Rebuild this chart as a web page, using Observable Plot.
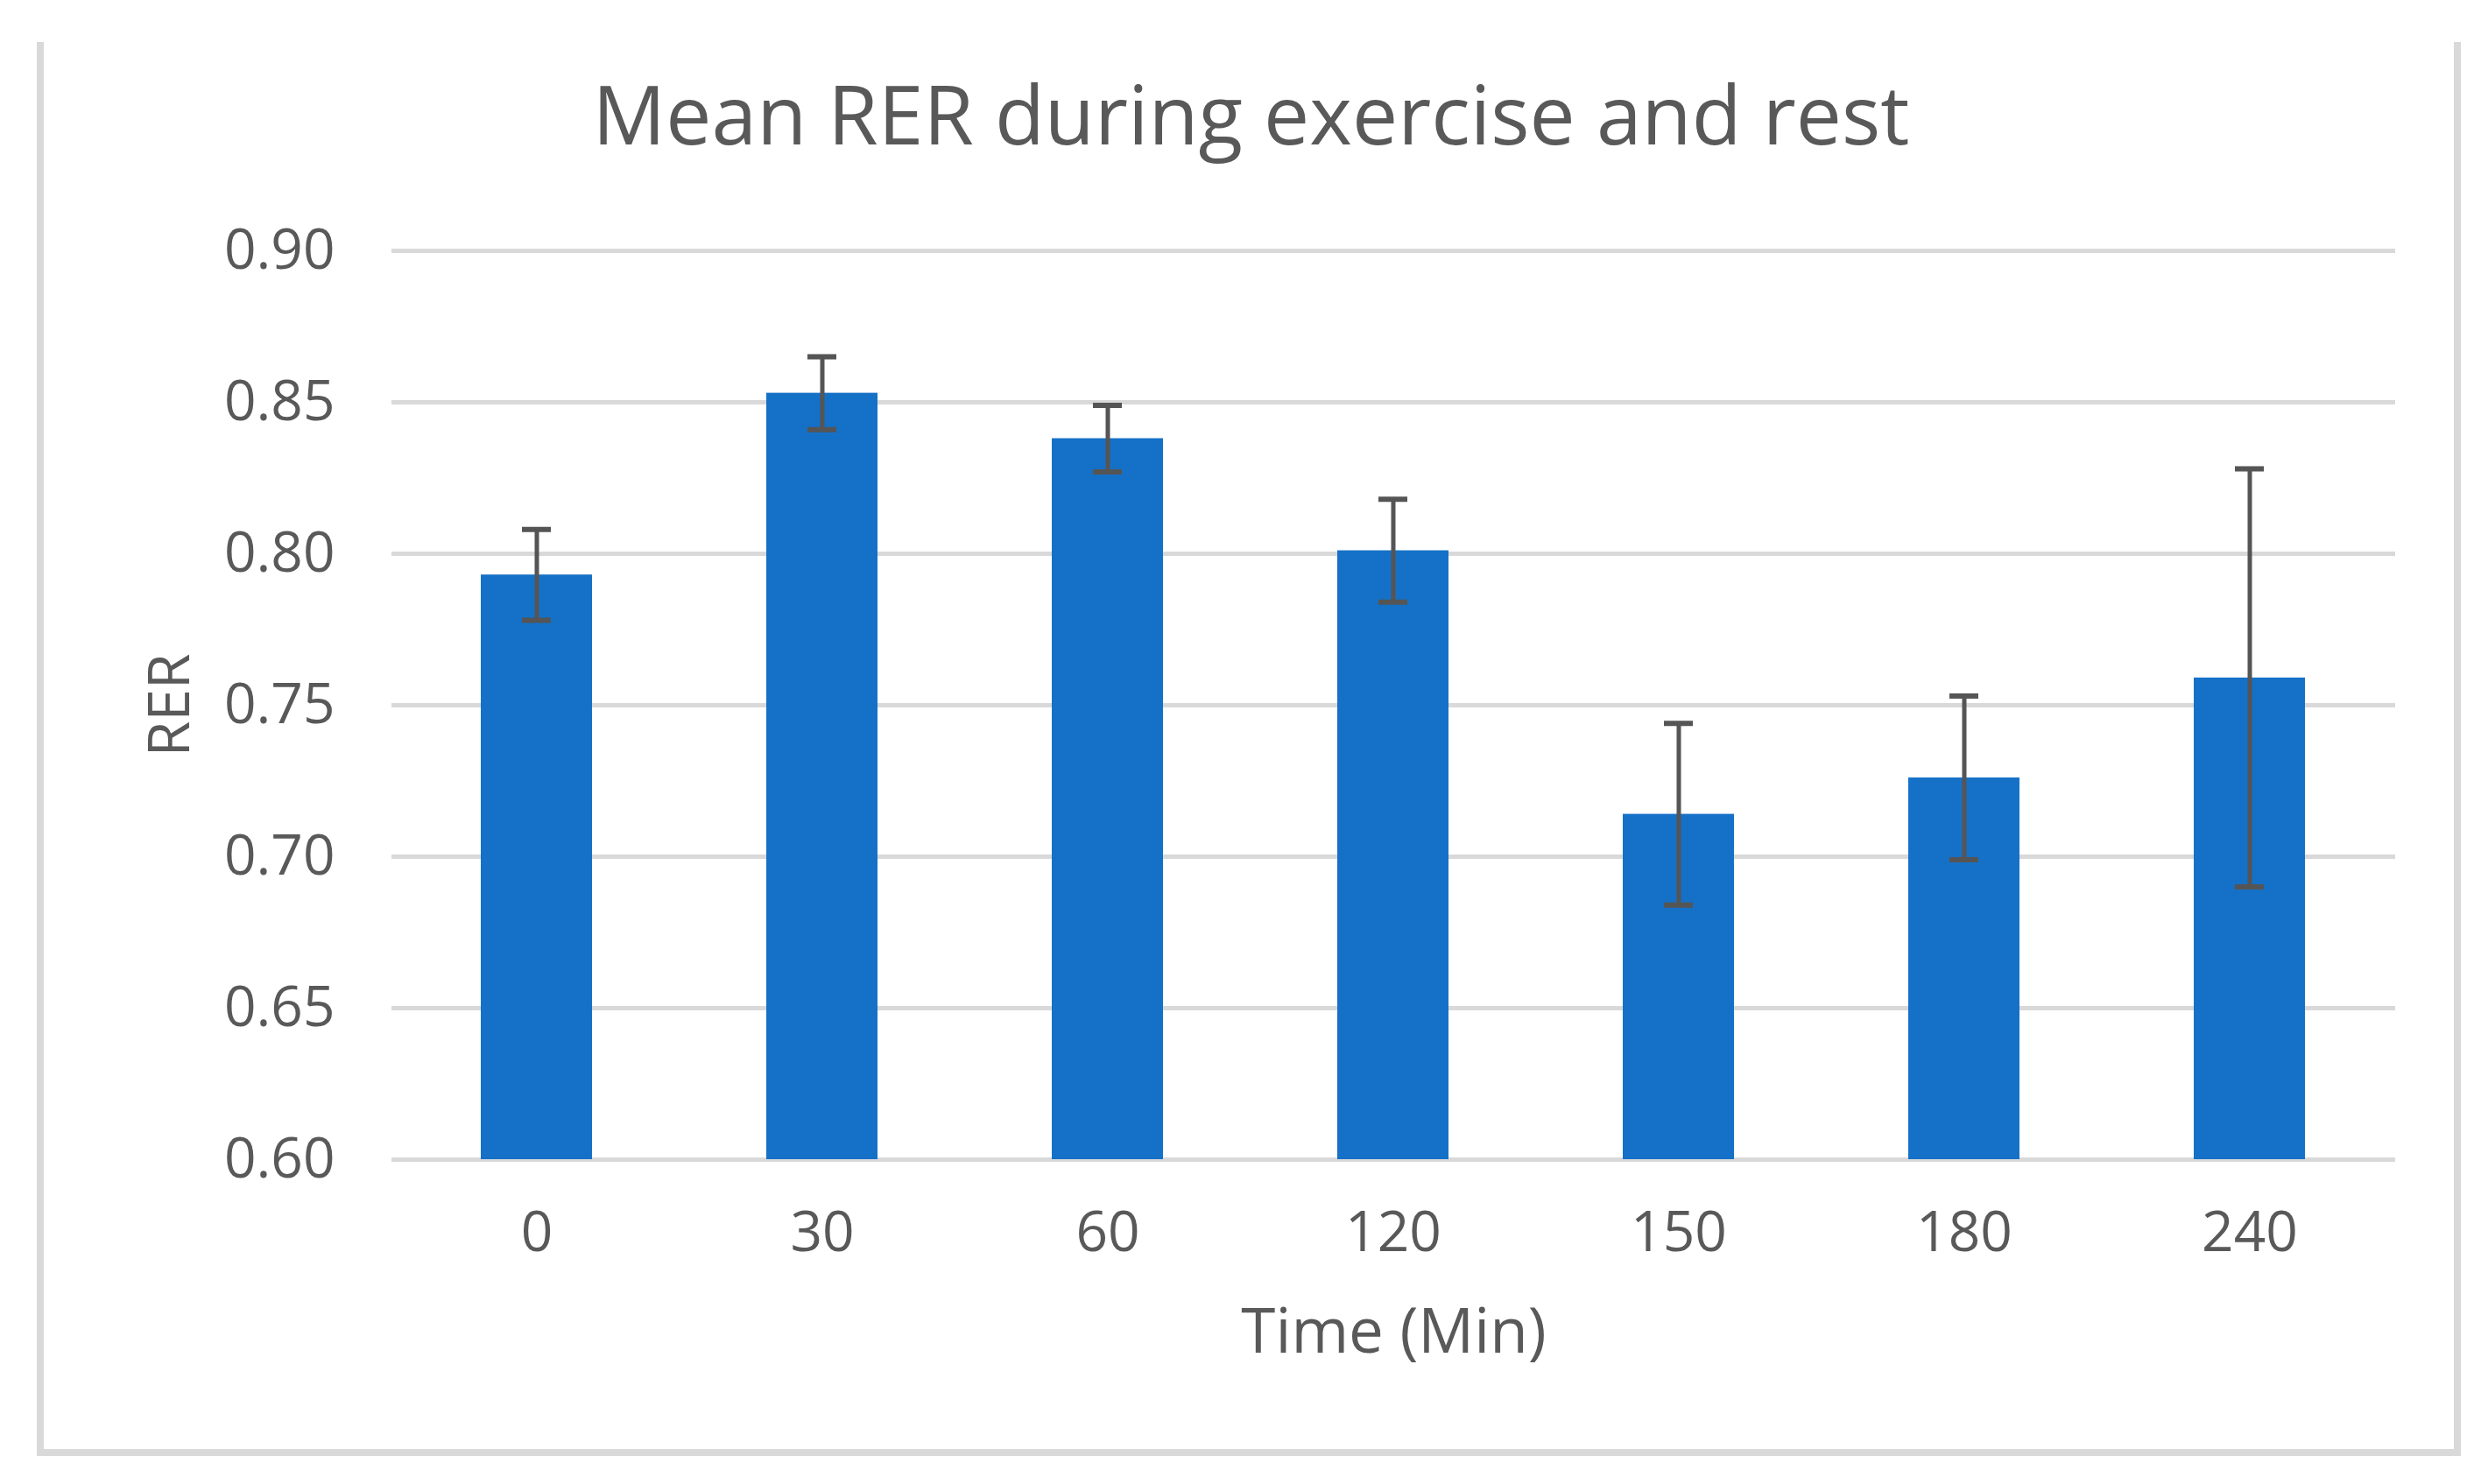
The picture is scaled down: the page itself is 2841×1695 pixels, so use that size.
<!DOCTYPE html>
<html>
<head>
<meta charset="utf-8">
<script src="https://cdn.jsdelivr.net/npm/d3@7"></script>
<script src="https://cdn.jsdelivr.net/npm/@observablehq/plot@0.6"></script>
<style>
  html, body { margin: 0; padding: 0; background: #fff; }
  #page { position: relative; width: 2841px; height: 1695px; background: #fff; overflow: hidden; }
  #frame { position: absolute; left: 42px; top: 48px; width: 2752px; height: 1607px;
           border-left: 8px solid #d9d9d9; border-right: 8px solid #d9d9d9; border-bottom: 8px solid #d9d9d9; }
  #title { position: absolute; left: 8px; width: 2841px; top: 66px; text-align: center;
           font-family: "Open Sans", sans-serif; font-size: 93px; line-height: normal; color: #595959; }
  #chart { position: absolute; left: 0; top: 200px; }
</style>
</head>
<body>
<div id="page">
  <div id="frame"></div>
  <div id="title">Mean RER during exercise and rest</div>
  <div id="chart"></div>
</div>
<script>
const titleText = "Mean RER during exercise and rest";
const xLabel = "Time (Min)";
const yLabel = "RER";
const times = ["0", "30", "60", "120", "150", "180", "240"];
const means = [0.793, 0.853, 0.838, 0.801, 0.714, 0.726, 0.759];
const errors = [0.015, 0.012, 0.011, 0.017, 0.030, 0.027, 0.069];
const yTicks = [0.60, 0.65, 0.70, 0.75, 0.80, 0.85, 0.90];
const yDomain = [0.60, 0.90];

const data = times.map((t, i) => ({time: t, mean: means[i], err: errors[i]}));
const textColor = "#595959";

const chart = Plot.plot({
  width: 2841,
  height: 1440,
  marginTop: 86,
  marginBottom: 316,
  marginLeft: 447,
  marginRight: 106,
  style: {fontFamily: "'Open Sans', sans-serif", color: textColor, background: "transparent"},
  x: {domain: times, paddingInner: 0.61, paddingOuter: 0.305, label: null},
  y: {domain: yDomain, label: null},
  marks: [
    Plot.ruleY(yTicks, {stroke: "#d9d9d9", strokeWidth: 5}),
    Plot.barY(data, {x: "time", y1: () => yDomain[0], y2: "mean", fill: "#1571C7"}),
    Plot.ruleX(data, {x: "time", y1: d => d.mean - d.err, y2: d => d.mean + d.err, stroke: "#555555", strokeWidth: 5}),
    Plot.tickY(data, {x: "time", y: d => d.mean + d.err, stroke: "#555555", strokeWidth: 6, insetLeft: 47, insetRight: 47}),
    Plot.tickY(data, {x: "time", y: d => d.mean - d.err, stroke: "#555555", strokeWidth: 6, insetLeft: 47, insetRight: 47}),
    Plot.axisY(yTicks, {tickSize: 0, tickPadding: 65, fontSize: 64, fill: textColor, tickFormat: d3.format(".2f"), label: null}),
    Plot.axisX({tickSize: 0, tickPadding: 59, fontSize: 64, fill: textColor, label: null}),
    Plot.text([xLabel], {frameAnchor: "bottom", lineAnchor: "middle", textAnchor: "middle", dy: 198, fontSize: 71, fill: textColor}),
    Plot.text([yLabel], {frameAnchor: "left", lineAnchor: "middle", textAnchor: "middle", dx: -253, rotate: -90, fontSize: 66, fill: textColor})
  ]
});
document.getElementById("chart").appendChild(chart);
</script>
</body>
</html>
